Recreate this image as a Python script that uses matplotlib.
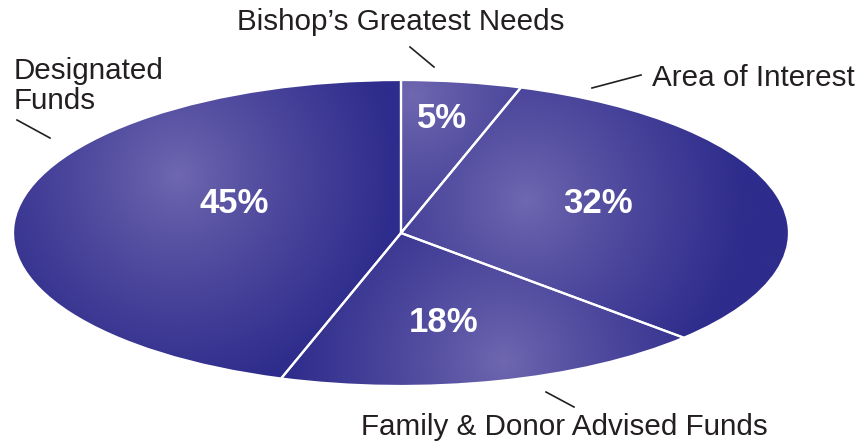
import numpy as np
import matplotlib
matplotlib.use('Agg')
import matplotlib.pyplot as plt
from matplotlib.lines import Line2D
from matplotlib.colors import to_rgb

# data
labels = ['Bishop’s Greatest Needs', 'Area of Interest', 'Family & Donor Advised Funds', 'Designated\nFunds']
values = [5, 32, 18, 45]
pct_labels = ['5%', '32%', '18%', '45%']

W, H = 856, 443
CX, CY = 401, 233          # pie center in pixels (from top)
RX, RY = 388, 153          # ellipse radii in pixels

light = np.array(to_rgb('#7068b0'))
dark = np.array(to_rgb('#2e2c8c'))

fig = plt.figure(figsize=(W / 100, H / 100), dpi=100)
ax = fig.add_axes([0, 0, 1, 1])


def px2data(px, py):
    return (px - CX) / RX, (CY - py) / RY


wedges, _ = ax.pie(values, startangle=90, counterclock=False, radius=1,
                   wedgeprops=dict(edgecolor='white', linewidth=1.6, facecolor='none'))

# radial gradient highlight for each slice (pixel positions)
grad_centers = [(413, 95), (526, 200), (504, 362), (178, 175)]
grad_radius = 220

n = 500
xs = np.linspace(-1, 1, n)
ys = np.linspace(-1, 1, n)
gx, gy = np.meshgrid(xs, ys)
for w, (gpx, gpy) in zip(wedges, grad_centers):
    cx, cy = px2data(gpx, gpy)
    d = np.sqrt(((gx - cx) * RX) ** 2 + ((gy - cy) * RY) ** 2) / grad_radius
    t = np.clip(d, 0, 1) ** 0.85
    img = light[None, None, :] * (1 - t[..., None]) + dark[None, None, :] * t[..., None]
    im = ax.imshow(img, extent=(-1, 1, -1, 1), origin='lower', aspect='auto',
                   interpolation='bilinear', zorder=0.5)
    im.set_clip_path(w)
    w.set_zorder(1)

ax.set_aspect('auto')
ax.set_xlim(-CX / RX, (W - CX) / RX)
ax.set_ylim(-(H - CY) / RY, CY / RY)
ax.axis('off')

# percentages inside slices
pct_pos = [(442, 119), (598, 204), (444, 323), (234, 204)]
for txt, (px, py) in zip(pct_labels, pct_pos):
    x, y = px2data(px, py)
    ax.text(x, y, txt, color='white', fontsize=25, fontweight='bold',
            family='Liberation Sans', ha='center', va='center', zorder=3)

# outer labels
lab_style = dict(color='#231f20', fontsize=21.3, family='Liberation Sans')
fig.text(401 / W, 1 - 22 / H, labels[0], ha='center', va='center', **lab_style)
fig.text(652 / W, 1 - 78 / H, labels[1], ha='left', va='center', **lab_style)
fig.text(564 / W, 1 - 427 / H, labels[2], ha='center', va='center', **lab_style)
fig.text(14 / W, 1 - 86 / H, labels[3], ha='left', va='center', linespacing=1.08, **lab_style)

# leader lines
leaders = [((410, 47), (434, 67)), ((592, 88), (641, 75)),
           ((546, 392), (574, 407)), ((17, 120), (50, 138))]
for (x0, y0), (x1, y1) in leaders:
    fig.add_artist(Line2D([x0 / W, x1 / W], [1 - y0 / H, 1 - y1 / H],
                          transform=fig.transFigure, color='#231f20', lw=1.2))

fig.savefig('out.png', dpi=100)
